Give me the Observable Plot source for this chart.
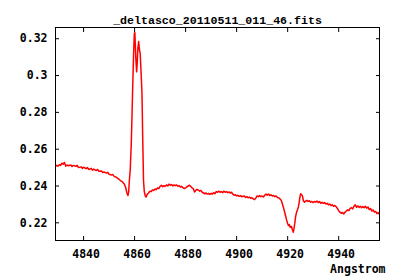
<!DOCTYPE html>
<html><head><meta charset="utf-8">
<script src="https://cdn.jsdelivr.net/npm/d3@7"></script>
<script src="https://cdn.jsdelivr.net/npm/@observablehq/plot@0.6"></script>
<style>body{margin:0;background:#fff}</style>
</head><body><div id="chart"></div>
<script>
const title = "_deltasco_20110511_011_46.fits";
const xLabel = "Angstrom";
const xTicks = [4840, 4860, 4880, 4900, 4920, 4940];
const yTicks = [0.22, 0.24, 0.26, 0.28, 0.30, 0.32];
const yTickLabels = ["0.22", "0.24", "0.26", "0.28", "0.3", "0.32"];

const wavelength = [
4829,4829.5,4830,4830.5,4831,4831.5,4832,4832.5,4833,4833.5,4834,4835,4835.5,4836,4837,4837.5,4838,4839,4839.5,4840,
4841,4841.5,4842,4843,4843.5,4844,4845,4845.5,4846,4847,4847.5,4848,4849,4849.5,4850,4851,4851.5,4852,4853,4853.5,
4854,4854.5,4855,4855.5,4856,4856.5,4857,4857.4,4857.7,4857.9,4858.3,4858.7,4859.0,4859.3,4859.6,4859.9,4860.1,4860.3,4860.5,4860.8,
4861.0,4861.3,4861.6,4861.9,4862.2,4862.6,4862.9,4863.2,4863.5,4863.8,4864.2,4864.5,4865,4865.5,4866,4866.5,4867,4867.5,4868,4868.5,
4869,4869.5,4870,4870.5,4871,4871.5,4872,4872.5,4873,4873.5,4874,4874.5,4875,4875.5,4876,4876.5,4877,4877.5,4878,4878.5,
4879,4879.5,4880,4880.5,4881,4881.5,4882,4882.5,4883,4883.5,4884,4884.5,4885,4885.5,4886,4886.5,4887,4887.5,4888,4888.5,
4889,4889.5,4890,4890.5,4891,4891.5,4892,4892.5,4893,4893.5,4894,4894.5,4895,4895.5,4896,4896.5,4897,4897.5,4898,4898.5,
4899,4899.5,4900,4900.5,4901,4901.5,4902,4903,4903.5,4904,4904.5,4905,4905.5,4906,4906.5,4907,4907.5,4908,4908.5,4909,
4909.5,4910,4910.5,4911,4911.5,4912,4912.5,4913,4913.5,4914,4914.5,4915,4915.5,4916,4916.5,4917,4917.5,4918,4918.5,4919,
4919.5,4920,4920.3,4920.7,4921,4921.5,4921.8,4922.2,4922.5,4922.8,4923.1,4923.5,4923.9,4924.2,4924.5,4924.8,4925.1,4925.5,4925.8,4926.2,
4926.6,4927,4927.5,4928,4928.5,4929,4929.5,4930,4930.5,4931,4931.5,4932,4932.5,4933,4933.5,4934,4934.5,4935,4935.5,4936,
4936.5,4937,4937.5,4938,4938.5,4939,4939.5,4940,4940.5,4941,4941.5,4942,4942.5,4943,4943.5,4944,4944.5,4945,4945.5,4946,
4946.5,4947,4947.5,4948,4948.5,4949,4949.5,4950,4950.5,4951,4951.5,4952,4952.5,4953,4953.5,4954,4954.5,4955,4955.5,4955.8
];
const flux = [
0.2506,0.2512,0.2508,0.2516,0.2512,0.2524,0.2518,0.2528,0.2508,0.2514,0.2510,0.2514,0.2506,0.2512,0.2507,0.2512,0.2500,0.2504,0.2496,0.2502,
0.2494,0.2500,0.2490,0.2496,0.2486,0.2492,0.2484,0.2490,0.2480,0.2482,0.2474,0.2476,0.2470,0.2474,0.2464,0.2460,0.2462,0.2452,0.2446,0.2440,
0.2436,0.2428,0.2426,0.2418,0.2410,0.2392,0.2362,0.2348,0.2370,0.2420,0.2490,0.2630,0.2790,0.2960,0.3110,0.3227,0.3234,0.3160,0.3090,0.3020,
0.3060,0.3150,0.3185,0.3140,0.3120,0.3000,0.2900,0.2650,0.2430,0.2370,0.2345,0.2340,0.2356,0.2362,0.2372,0.2370,0.2378,0.2376,0.2384,0.2380,
0.2390,0.2386,0.2398,0.2404,0.2396,0.2402,0.2398,0.2406,0.2400,0.2410,0.2404,0.2408,0.2400,0.2406,0.2402,0.2406,0.2398,0.2402,0.2394,0.2398,
0.2390,0.2386,0.2390,0.2396,0.2400,0.2404,0.2398,0.2390,0.2386,0.2368,0.2376,0.2382,0.2378,0.2372,0.2376,0.2366,0.2362,0.2358,0.2362,0.2356,
0.2360,0.2354,0.2360,0.2356,0.2364,0.2358,0.2370,0.2366,0.2372,0.2366,0.2370,0.2364,0.2372,0.2366,0.2370,0.2364,0.2368,0.2362,0.2366,0.2356,
0.2350,0.2352,0.2346,0.2350,0.2344,0.2348,0.2342,0.2346,0.2338,0.2342,0.2336,0.2340,0.2334,0.2336,0.2330,0.2326,0.2334,0.2346,0.2342,0.2348,
0.2342,0.2346,0.2340,0.2350,0.2356,0.2350,0.2356,0.2348,0.2352,0.2346,0.2348,0.2342,0.2346,0.2338,0.2336,0.2330,0.2322,0.2300,0.2276,0.2248,
0.2220,0.2196,0.2185,0.2190,0.2176,0.2180,0.2165,0.2149,0.2170,0.2198,0.2232,0.2258,0.2272,0.2286,0.2310,0.2340,0.2358,0.2352,0.2346,0.2318,
0.2312,0.2318,0.2322,0.2316,0.2320,0.2312,0.2316,0.2310,0.2316,0.2312,0.2318,0.2310,0.2316,0.2306,0.2312,0.2306,0.2310,0.2302,0.2306,0.2298,
0.2302,0.2294,0.2298,0.2290,0.2294,0.2288,0.2278,0.2266,0.2258,0.2252,0.2256,0.2248,0.2258,0.2264,0.2270,0.2266,0.2278,0.2282,0.2276,0.2290,
0.2298,0.2284,0.2292,0.2284,0.2290,0.2282,0.2288,0.2282,0.2290,0.2280,0.2286,0.2272,0.2278,0.2264,0.2270,0.2258,0.2262,0.2250,0.2256,0.2248
];

const data = wavelength.map((w, i) => ({w, f: flux[i]}));
const fmtY = d => yTickLabels[yTicks.findIndex(t => Math.abs(t - d) < 1e-9)];

const plot = Plot.plot({
  width: 400, height: 280,
  marginLeft: 55, marginRight: 21, marginTop: 27, marginBottom: 40,
  style: {fontFamily: "'DejaVu Sans Mono', monospace", fontSize: "11.5px", fontWeight: "bold", background: "white", color: "black"},
  x: {domain: [4829, 4956]},
  y: {domain: [0.2104, 0.3261]},
  marks: [
    Plot.line(data, {x: "w", y: "f", stroke: "#ff0000", strokeWidth: 1.5, clip: true}),
    Plot.frame({stroke: "black"}),
    Plot.axisX(xTicks, {anchor: "bottom", tickSize: -4, tickFormat: () => "", label: null}),
    Plot.axisX(xTicks, {anchor: "top", tickSize: -4, tickFormat: () => "", label: null}),
    Plot.axisX(xTicks, {anchor: "bottom", tickSize: 0, tickPadding: 9, dx: 2.5, tickFormat: d => String(d), label: null}),
    Plot.axisY(yTicks, {anchor: "left", tickSize: -4, tickFormat: () => "", label: null}),
    Plot.axisY(yTicks, {anchor: "right", tickSize: -4, tickFormat: () => "", label: null}),
    Plot.axisY(yTicks, {anchor: "left", tickSize: 0, tickPadding: 8, tickFormat: fmtY, label: null}),
    Plot.text([title], {frameAnchor: "top", dy: -11.6, text: d => d, fill: "black", fontFamily: "'Liberation Mono', monospace", fontSize: 11.6}),
    Plot.text([xLabel], {frameAnchor: "bottom-right", dx: 6, dy: 32, textAnchor: "end", text: d => d, fill: "black"})
  ]
});
document.getElementById("chart").appendChild(plot);
</script>
</body></html>
